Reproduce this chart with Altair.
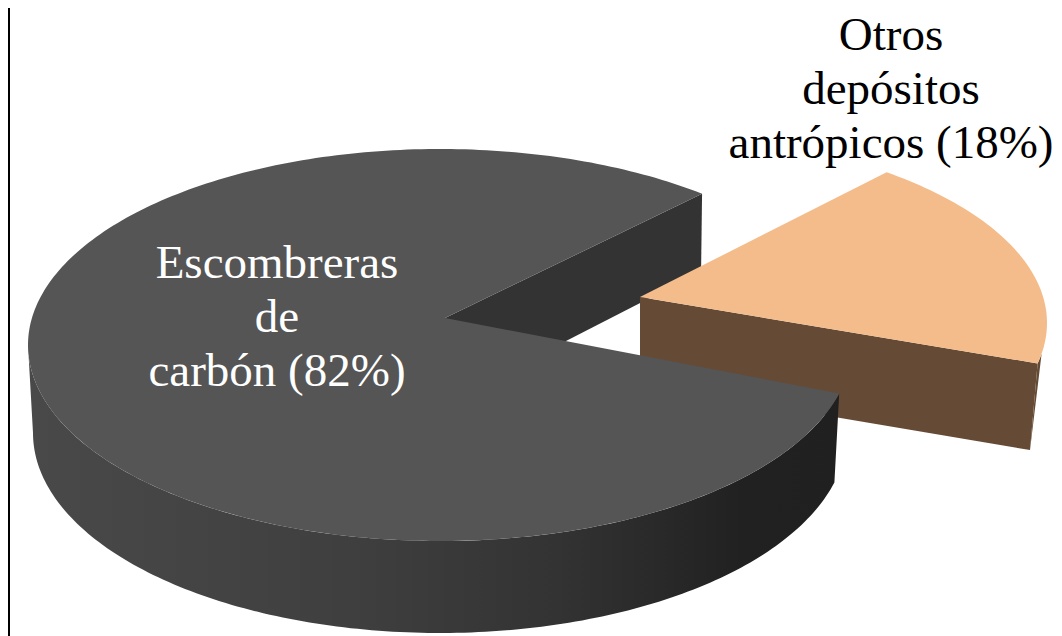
import math
import altair as alt

categories = ["Escombreras de carbón", "Otros depósitos antrópicos"]
shares = [82, 18]
labels_dark = ["Escombreras", "de", "carbón (82%)"]
labels_light = ["Otros", "depósitos", "antrópicos (18%)"]

W, H = 1046, 628
OX, OY = 8, 8  # page margin


def arc(cx, cy, rx, ry, t0, sweep):
    n = max(8, int(abs(sweep)))
    pts = []
    for i in range(n + 1):
        t = math.radians(t0 + sweep * i / n)
        pts.append((cx + rx * math.cos(t), cy - ry * math.sin(t)))
    return pts


def shape(pts, fill):
    ring = [[x - OX, -(y - OY)] for x, y in pts]
    ring.append(ring[0])
    feature = {"type": "Feature", "properties": {},
               "geometry": {"type": "Polygon", "coordinates": [ring]}}
    return alt.Chart(alt.Data(values=[feature])).mark_geoshape(
        fill=fill, stroke=None, strokeWidth=0
    ).project(type="identity", reflectY=True, scale=1, translate=[0, 0])


dark_sweep = shares[0] * 3.6
light_sweep = shares[1] * 3.6
dark_start = 50.5
light_start = 52.5

# dark slice
d_top = arc(440, 345, 412, 196, dark_start, dark_sweep)
d_vertex = (445, 318)
d_back = d_top[0]
inner_wall = shape(
    [d_vertex, d_back, (d_back[0] - 1, d_back[1] + 78), (445, 403)], "#333333"
)
# visible outer wall: from the left extreme round to the front cut
front_sweep = dark_start + dark_sweep - 180
d_low_arc = arc(440, 433, 407, 200, 180, front_sweep)
d_up_arc = arc(440, 345, 412, 196, 180, front_sweep)
side_fill = alt.LinearGradient(
    gradient="linear", x1=0, x2=1, y1=0, y2=0,
    stops=[
        alt.GradientStop(color="#494949", offset=0),
        alt.GradientStop(color="#3f3f3f", offset=0.4),
        alt.GradientStop(color="#333333", offset=0.65),
        alt.GradientStop(color="#212121", offset=0.88),
        alt.GradientStop(color="#202020", offset=1),
    ],
)
outer_wall = shape(d_up_arc + d_low_arc[::-1], side_fill)
dark_top = shape([d_vertex] + d_top, "#555555")

# light slice
l_top = arc(637, 323, 410, 190, light_start, -light_sweep)
l_vertex = (640, 297)
l_end = l_top[-1]
light_wall = shape(
    [l_vertex, l_end, (1030, 450), (640, 384)], "#654b35"
)
light_rim = shape(
    arc(637, 323, 410, 190, light_start - light_sweep + 3, -3) + [(1030, 450)], "#654b35"
)
light_top = shape([l_vertex] + l_top, "#f4bc8b")

frame = alt.Chart(alt.Data(values=[{"a": 1}])).mark_rule(
    color="#000000", strokeWidth=4
).encode(x=alt.value(0), y=alt.value(0), y2=alt.value(H))


def text_line(s, cx, base, color):
    return alt.Chart(alt.Data(values=[{"t": s}])).mark_text(
        font="Liberation Serif", fontSize=47, color=color,
        align="center", baseline="alphabetic",
    ).encode(text="t:N", x=alt.value(cx - OX), y=alt.value(base - OY))


texts = [text_line(s, 277, 278 + 54 * i, "#ffffff") for i, s in enumerate(labels_dark)]
texts += [text_line(s, 891, 50 + 54 * i, "#000000") for i, s in enumerate(labels_light)]

chart = alt.layer(
    frame, inner_wall, light_wall, light_rim, light_top, outer_wall, dark_top, *texts
).properties(
    width=W, height=H, padding=0, background="#ffffff",
    autosize=alt.AutoSizeParams(type="none"),
).configure_view(stroke=None)

chart.save("out.html", embed_options={"renderer": "svg", "actions": False})
